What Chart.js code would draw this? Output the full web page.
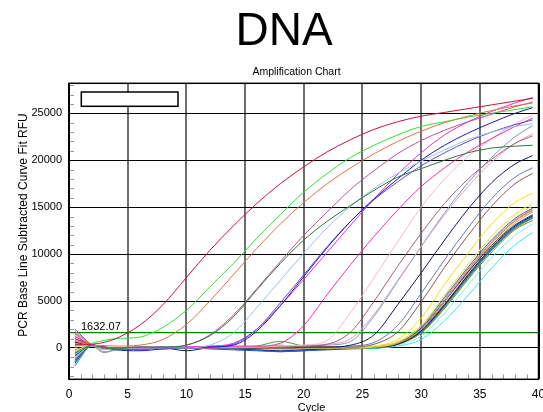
<!DOCTYPE html>
<html><head><meta charset="utf-8">
<script src="https://cdn.jsdelivr.net/npm/chart.js@4"></script>
<style>html,body{margin:0;padding:0;background:#fff}</style>
</head><body>
<canvas id="c" width="543" height="412"></canvas>
<script>
const TITLE = 'DNA';
const SUBTITLE = 'Amplification Chart';
const X_LABEL = 'Cycle';
const Y_LABEL = 'PCR Base Line Subtracted Curve Fit RFU';
const X_TICKS = [0, 5, 10, 15, 20, 25, 30, 35, 40];
const Y_TICKS = [0, 5000, 10000, 15000, 20000, 25000];
const X_MINOR = [1,2,3,4,6,7,8,9,11,12,13,14,16,17,18,19,21,22,23,24,26,27,28,29,31,32,33,34,36,37,38,39];
const Y_MINOR = [-3000,-2000,-1000,1000,2000,3000,4000,6000,7000,8000,9000,11000,12000,13000,14000,16000,17000,18000,19000,21000,22000,23000,24000,26000,27000,28000];
const THRESHOLD = 1632.07;
const CYCLES = [0.5, 2, 3, 4, 6, 8, 10, 12, 14, 16, 18, 20, 22, 24, 26, 28, 30, 32, 34, 36, 38, 39.5];

const crimson   = [300, 400, 600, 1000, 2400, 4600, 7500, 10400, 13000, 15400, 17500, 19300, 20900, 22200, 23300, 24100, 24700, 25100, 25500, 25900, 26300, 26600];
const green     = [-700, 500, 800, 1000, 1150, 2200, 4000, 6500, 9000, 11700, 14200, 16600, 18600, 20300, 21600, 22700, 23600, 24100, 24600, 25000, 25400, 25700];
const coral     = [800, 300, 250, 200, 300, 900, 2500, 5000, 7800, 10600, 13200, 15500, 17500, 19200, 20700, 22000, 23100, 24000, 24700, 25300, 25800, 26100];
const darkGreen = [-1500, 300, 0, -100, 100, 100, 300, 1300, 3300, 6200, 9000, 11500, 13500, 15200, 16800, 18200, 19100, 20000, 20800, 21300, 21500, 21600];
const mauve     = [1200, 300, 100, 0, 100, 100, 300, 1400, 3500, 6300, 9200, 12000, 14500, 16900, 18900, 20700, 22100, 23200, 24100, 24900, 25700, 26200];
const lightBlue = [-1000, 200, 0, -100, 0, 0, 0, 300, 1600, 4300, 7200, 10100, 12800, 15100, 17000, 18600, 19900, 21100, 22200, 23000, 23600, 23900];
const blue      = [-800, 300, 100, -200, -300, -100, 0, 100, 300, 1800, 4500, 7600, 10700, 13500, 15900, 18000, 20000, 21600, 22900, 24000, 25000, 25600];
const violet    = [-1300, 300, 0, 0, -200, 0, 0, 100, 400, 2000, 4800, 7800, 10800, 13500, 15800, 17700, 19400, 20800, 22000, 23000, 23800, 24300];
const magenta   = [1500, 200, 100, 0, 100, 0, 100, 200, 500, 2000, 4500, 7300, 10200, 13100, 15900, 18500, 20800, 22700, 24100, 25200, 26100, 26700];
const deepPink  = [1000, 200, 0, 0, 0, 0, 100, 100, 200, 200, 500, 2400, 5700, 8900, 11900, 14700, 17200, 19200, 20900, 22300, 23600, 24500];
const palePink  = [800, 200, 0, 0, 100, 0, 0, 100, 100, 100, 200, 300, 800, 3800, 7500, 11300, 15000, 18000, 20400, 22300, 23900, 24800];
const brownMauve= [-500, 300, 0, 0, 0, 100, 0, 0, 100, 100, 100, 200, 400, 1700, 5000, 8700, 12200, 15400, 18000, 20100, 21800, 22600];
const rose      = [-1000, 300, 0, 0, 0, 0, 0, 0, 100, 100, 200, 300, 400, 1000, 3600, 7200, 10800, 14200, 17200, 19800, 21800, 22800];
const steelBlue = [-1200, 300, 0, 0, -100, 0, 0, 0, 0, 100, 100, 200, 300, 700, 3400, 7100, 10800, 14400, 17600, 20300, 22500, 23700];
const navy      = [600, 300, 100, 0, 0, -100, 0, 0, 0, 0, 100, 100, 100, 300, 1400, 4600, 8000, 11500, 14800, 17600, 19600, 20500];
const slate     = [-900, 200, 0, 0, 0, 0, 0, 0, 0, 0, 100, 100, 100, 200, 600, 2400, 5800, 9400, 12800, 15900, 18200, 19200];
const brown     = [400, 300, 0, 0, 0, 0, 0, 0, 0, 100, 0, 100, 100, 100, 400, 1700, 4900, 8600, 12000, 15100, 17500, 18600];
const yellow    = [200, 300, 0, 0, 0, 0, 0, 0, 0, 100, 200, 100, 0, 100, 200, 900, 3200, 6800, 10100, 13200, 15500, 16500];
const yellow2   = [-300, 300, 0, 0, 0, 0, 0, 0, 0, 0, 100, 0, 0, 0, 100, 600, 2300, 5600, 8900, 11900, 14300, 15400];
const orange    = [1800, 300, 100, 0, 0, 0, 0, 0, 0, 0, 0, 0, 0, 0, 100, 500, 2000, 5000, 8300, 11200, 13600, 14800];
const darkBlue  = [-1600, 300, 0, -100, -100, 0, 0, 0, -100, -200, -300, -200, -100, 0, 100, 500, 2100, 5000, 8100, 10900, 13100, 14200];
const black     = [1000, 300, 0, 0, 0, 0, -300, 0, 0, 0, 0, 0, 0, 0, 100, 400, 1800, 4600, 7800, 10700, 13000, 14100];
const teal      = [-200, 300, 0, 0, 0, 0, 0, 0, 0, 0, 300, 0, 0, 0, 0, 400, 1700, 4400, 7500, 10400, 12800, 13900];
const cyan      = [-1800, 300, 0, -100, 0, 0, 0, 0, -100, -200, -200, -100, 0, 0, 0, 200, 900, 2900, 5600, 8500, 11000, 12300];
const olive     = [700, 300, 0, 0, 0, 0, 0, 0, 0, 0, 100, 0, 0, 0, 100, 400, 1600, 4300, 7400, 10400, 12700, 13800];
const tan       = [1300, 300, -200, 0, 0, 0, 0, 0, 0, 0, 200, 100, 0, 0, 100, 500, 2000, 4900, 8000, 10900, 13300, 14500];
const royalBlue = [-1100, 300, 0, 0, -100, 0, 0, 0, -100, -200, -400, -300, -100, 0, 100, 500, 1900, 4700, 7700, 10500, 12800, 13900];
const grayBlue  = [400, 300, -400, -200, 0, 0, 0, 0, 0, 0, 0, 0, 0, 0, 100, 600, 2200, 5200, 8400, 11300, 13600, 14700];
const lightYel  = [100, 300, 0, 0, 0, 0, 0, 0, 0, 0, 0, 0, 0, 0, 200, 700, 2500, 5700, 8900, 11800, 14100, 15100];
const purple    = [-600, 300, 0, 0, 0, 0, 0, 0, 0, 0, 200, 0, 0, 0, 100, 400, 1700, 4500, 7600, 10500, 12800, 13900];
const green2    = [-1400, 300, 0, 0, 0, 0, 0, 0, 0, 200, 700, 200, 0, 0, 0, 400, 1600, 4200, 7300, 10200, 12600, 13600];
const gray      = [1600, 300, -500, -200, 0, 0, 0, 0, 0, 0, 0, 0, 0, 0, 100, 400, 1800, 4600, 7700, 10600, 12900, 14000];
const blue3     = [-1900, 300, 0, -100, -100, 0, 0, -100, -200, -300, -400, -300, -200, -100, 0, 400, 1700, 4500, 7600, 10500, 12900, 14000];
const lightCyan = [500, 300, 0, 0, 0, 0, 0, 0, 0, 0, 0, 0, 0, 0, 0, 300, 1300, 3700, 6700, 9600, 12000, 13200];
const orange2   = [-400, 300, 0, 0, 0, 0, 0, 0, 0, 0, 100, 0, 0, 0, 100, 600, 2100, 5000, 8200, 11100, 13500, 14600];
const blue4     = [2000, 300, 0, 0, 0, 0, 0, 0, 0, 0, 0, -100, -100, 0, 100, 600, 2300, 5400, 8600, 11500, 13800, 14900];

const SERIES = [
  [crimson, '#d0103a'], [green, '#30e030'], [coral, '#e07048'], [darkGreen, '#2a7a3a'],
  [mauve, '#c0509a'], [lightBlue, '#98c4e4'], [blue, '#1818c0'], [violet, '#6a48d8'],
  [magenta, '#e030e0'], [deepPink, '#ff2aa0'], [palePink, '#f4b8cc'], [brownMauve, '#a06078'],
  [rose, '#e0a0b8'], [steelBlue, '#7898c8'], [navy, '#181850'], [slate, '#6878b0'],
  [brown, '#8a5a48'], [yellow, '#f0e000'], [yellow2, '#e8e060'], [orange, '#f09020'],
  [darkBlue, '#1030a0'], [black, '#202020'], [teal, '#209090'], [cyan, '#40e0f0'],
  [olive, '#a0a040'], [tan, '#d0a070'], [royalBlue, '#3060e0'], [grayBlue, '#8898b8'],
  [lightYel, '#f0f070'], [purple, '#8040a0'], [green2, '#40a048'], [gray, '#909090'],
  [blue3, '#2040d0'], [lightCyan, '#80e8f0'], [orange2, '#e0a050'], [blue4, '#4050c0']
];

const FONT = 'Liberation Sans';

const datasets = SERIES.map(([vals, col]) => ({
  data: CYCLES.map((c, i) => ({x: c, y: vals[i]})),
  borderColor: col, borderWidth: 1, pointRadius: 0, fill: false,
  cubicInterpolationMode: 'monotone'
}));
datasets.push({
  data: [{x: X_TICKS[0], y: THRESHOLD}, {x: X_TICKS[X_TICKS.length - 1], y: THRESHOLD}],
  borderColor: '#008000', borderWidth: 1.3, pointRadius: 0, fill: false
});

const decor = {
  id: 'decor',
  beforeDatasetsDraw(chart) {
    const {ctx, chartArea: a, scales: {x, y}} = chart;
    ctx.save();
    ctx.strokeStyle = '#999';
    ctx.lineWidth = 1;
    ctx.beginPath();
    X_MINOR.forEach(v => { const px = Math.round(x.getPixelForValue(v)) + 0.5; ctx.moveTo(px, a.bottom); ctx.lineTo(px, a.bottom - 5); });
    Y_MINOR.forEach(v => { const py = Math.round(y.getPixelForValue(v)) + 0.5; ctx.moveTo(a.left, py); ctx.lineTo(a.left + 5, py); });
    ctx.stroke();
    ctx.restore();
  },
  afterDatasetsDraw(chart) {
    const {ctx, chartArea: a, scales: {y}} = chart;
    ctx.save();
    ctx.strokeStyle = '#000';
    ctx.lineWidth = 1.5;
    ctx.strokeRect(a.left, a.top, a.right - a.left, a.bottom - a.top);
    ctx.fillStyle = '#fff';
    ctx.fillRect(a.left + 12.3, a.top + 8.7, 96.7, 14.3);
    ctx.strokeRect(a.left + 12.3, a.top + 8.7, 96.7, 14.3);
    ctx.fillStyle = '#000';
    ctx.font = '11px "' + FONT + '"';
    ctx.textAlign = 'left';
    ctx.textBaseline = 'alphabetic';
    ctx.fillText(THRESHOLD.toFixed(2), a.left + 12, y.getPixelForValue(THRESHOLD) - 2.5);
    ctx.restore();
  },
  afterDraw(chart) {
    const {ctx} = chart;
    ctx.save();
    ctx.fillStyle = '#000';
    ctx.textAlign = 'center';
    ctx.textBaseline = 'alphabetic';
    ctx.font = '46px "' + FONT + '"';
    ctx.fillText(TITLE, 284, 45);
    ctx.font = '10.5px "' + FONT + '"';
    ctx.fillText(SUBTITLE, 296.5, 75);
    ctx.font = '11px "' + FONT + '"';
    ctx.fillText(X_LABEL, 311.5, 410.5);
    ctx.translate(26.7, 225);
    ctx.rotate(-Math.PI / 2);
    ctx.font = '12px "' + FONT + '"';
    ctx.fillText(Y_LABEL, 0, 0);
    ctx.restore();
  }
};

new Chart(document.getElementById('c'), {
  type: 'line',
  data: {datasets},
  plugins: [decor],
  options: {
    responsive: false, animation: false, events: [],
    layout: {padding: {left: 0, right: 4.5, top: 83.3, bottom: 0}},
    plugins: {legend: {display: false}, tooltip: {enabled: false}},
    scales: {
      x: {
        type: 'linear', min: 0, max: 40,
        afterBuildTicks: s => { s.ticks = X_TICKS.map(v => ({value: v})); },
        afterFit: s => { s.height = 32.7; s.paddingLeft = 0; s.paddingRight = 0; },
        grid: {
          color: c => (c.tick && (c.tick.value === 0 || c.tick.value === 40)) ? '#000' : '#6e6e6e',
          lineWidth: 2, drawTicks: false
        },
        border: {display: false},
        ticks: {color: '#000', font: {family: FONT, size: 12}, padding: 8, maxRotation: 0, autoSkip: false,
          callback: v => String(v)}
      },
      y: {
        min: -3340, max: 28200,
        afterBuildTicks: s => { s.ticks = Y_TICKS.map(v => ({value: v})); },
        afterFit: s => { s.width = 69; s.paddingTop = 0; s.paddingBottom = 0; },
        grid: {color: '#000', lineWidth: 1, drawTicks: false},
        border: {display: false},
        ticks: {color: '#000', font: {family: FONT, size: 11}, padding: 7, callback: v => String(v)}
      }
    }
  }
});
</script>
</body></html>
